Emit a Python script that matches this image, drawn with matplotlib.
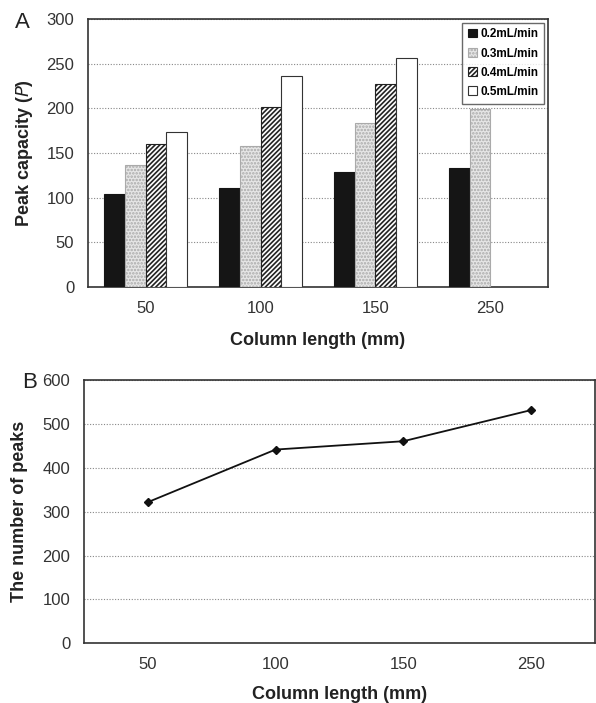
import numpy as np
import matplotlib.pyplot as plt

plt.rcParams['font.family'] = ['Liberation Sans', 'DejaVu Sans']
plt.rcParams['hatch.linewidth'] = 1.2

# Panel A data
lengths = ['50', '100', '150', '250']
flow_labels = ['0.2mL/min', '0.3mL/min', '0.4mL/min', '0.5mL/min']
cap_02 = [104, 111, 129, 133]
cap_03 = [137, 158, 183, 199]
cap_04 = [160, 201, 227, np.nan]
cap_05 = [173, 236, 256, np.nan]

# Panel B data
n_peaks = [322, 442, 461, 532]

fig = plt.figure(figsize=(5.96, 7.03), dpi=100)
ax1 = fig.add_axes([0.148, 0.592, 0.771, 0.381])
ax2 = fig.add_axes([0.141, 0.085, 0.857, 0.374])

x = np.arange(len(lengths))
w = 0.18
styles = [
    dict(color='#151515', edgecolor='#151515'),
    dict(color='#e6e6e6', edgecolor='#aaaaaa', hatch='.....'),
    dict(color='white', edgecolor='#222222', hatch='///////'),
    dict(color='white', edgecolor='#333333'),
]
for i, (vals, lab, st) in enumerate(zip([cap_02, cap_03, cap_04, cap_05], flow_labels, styles)):
    ax1.bar(x + (i - 1.5) * w, vals, w, label=lab, linewidth=0.8, zorder=3, **st)

ax1.set_xlim(-0.5, 3.5)
ax1.set_ylim(0, 300)
ax1.set_yticks(range(0, 301, 50))
ax1.set_xticks(x)
ax1.set_xticklabels(lengths)
ax1.grid(axis='y', linestyle=(0, (1, 1.5)), color='#888888', linewidth=0.8, zorder=0)
ax1.set_ylabel('Peak capacity ($\\mathit{P}$)', fontsize=13, fontweight='bold', color='#222222', labelpad=8)
ax1.set_xlabel('Column length (mm)', fontsize=13, fontweight='bold', color='#222222', labelpad=12)
ax1.legend(loc='upper right', prop={'weight': 'bold', 'size': 8.5},
           frameon=True, fancybox=False, edgecolor='#444444', handlelength=0.7,
           handletextpad=0.3, labelspacing=0.6, borderpad=0.5, borderaxespad=0.3)
fig.text(15 / 596, 1 - 22 / 703, 'A', fontsize=16, color='#222222', va='center')

ax2.plot(x, n_peaks, color='#111111', marker='D', markersize=4, linewidth=1.3, zorder=3)
ax2.set_xlim(-0.5, 3.5)
ax2.set_ylim(0, 600)
ax2.set_yticks(range(0, 601, 100))
ax2.set_xticks(x)
ax2.set_xticklabels(lengths)
ax2.grid(axis='y', linestyle=(0, (1, 1.5)), color='#888888', linewidth=0.8, zorder=0)
ax2.set_ylabel('The number of peaks', fontsize=13, fontweight='bold', color='#222222', labelpad=10)
ax2.set_xlabel('Column length (mm)', fontsize=13, fontweight='bold', color='#222222', labelpad=10)
fig.text(22 / 596, 1 - 383 / 703, 'B', fontsize=16, color='#222222', va='center')

for ax in (ax1, ax2):
    ax.tick_params(length=0, labelsize=12, labelcolor='#333333', pad=10)
    for s in ax.spines.values():
        s.set_color('#333333')
        s.set_linewidth(1.2)

fig.savefig('out.png', dpi=100)
